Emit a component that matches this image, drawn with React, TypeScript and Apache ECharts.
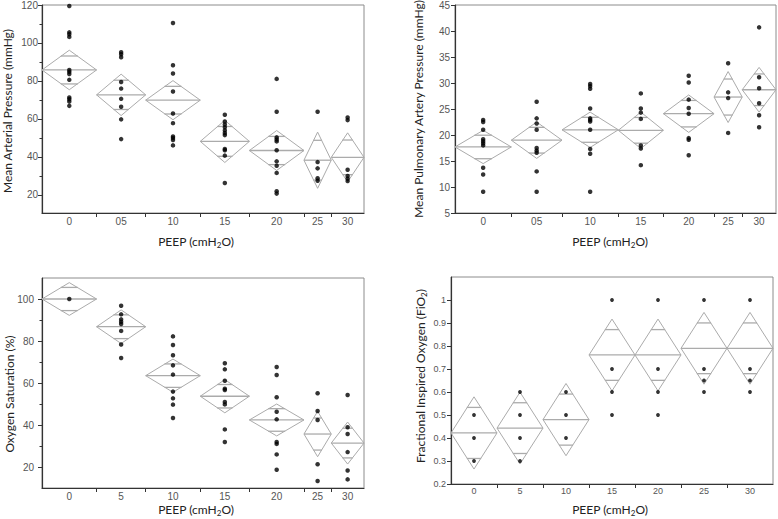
import React, { useEffect, useRef } from "react";
import * as echarts from "echarts";

// ---------- DATA ----------
const labelsPadded = ["0", "05", "10", "15", "20", "25", "30"];
const labelsPlain = ["0", "5", "10", "15", "20", "25", "30"];

// Mean Arterial Pressure
const mapSizes = [10, 9, 10, 9, 10, 5, 6];
const mapMeans = [85.8, 72.7, 69.9, 48.2, 43.4, 38.3, 39.8];
const mapHalfCI = [10.4, 10.9, 10.3, 11.1, 10.5, 14.8, 12.9];
const mapPoints = [
  [119.5, 105.6, 104.6, 103.2, 85.8, 84.8, 83.7, 80.6, 71.3, 70.4, 69.2, 66.9],
  [95.1, 94.1, 92.5, 79.5, 76.0, 70.6, 66.4, 59.8, 49.4],
  [110.5, 88.3, 83.9, 74.5, 62.9, 57.8, 50.8, 50.0, 48.9, 46.1],
  [62.2, 58.7, 57.1, 55.6, 54.0, 52.6, 51.5, 44.2, 43.5, 40.7, 26.3],
  [81.1, 63.8, 50.3, 49.2, 48.2, 43.5, 37.7, 35.4, 31.6, 22.0, 20.7],
  [63.8, 37.3, 34.0, 28.8, 27.5],
  [60.8, 59.4, 33.3, 30.0, 28.6, 27.3],
];
const mapTicks = [20, 40, 60, 80, 100, 120];
const mapMinorTicks = [30, 50, 70, 90, 110];

// Mean Pulmonary Artery Pressure
const mpapSizes = [10, 9, 10, 8, 9, 5, 6];
const mpapMeans = [17.7, 19.0, 21.0, 20.9, 24.1, 27.3, 28.7];
const mpapHalfCI = [3.2, 3.5, 3.4, 3.5, 3.6, 4.9, 4.3];
const mpapPoints = [
  [22.9, 22.5, 21.0, 19.2, 18.8, 18.4, 18.0, 13.7, 12.4, 9.1],
  [26.4, 23.2, 22.2, 21.0, 17.5, 17.0, 16.6, 13.0, 9.1],
  [29.8, 29.4, 28.9, 25.1, 23.2, 22.9, 22.6, 21.0, 17.3, 16.4, 9.1],
  [28.0, 25.1, 24.3, 23.1, 18.0, 17.4, 14.2],
  [31.4, 30.1, 26.8, 25.2, 24.1, 19.4, 19.1, 16.1],
  [33.8, 28.2, 27.1, 20.4],
  [40.7, 31.1, 29.0, 26.1, 23.8, 21.5],
];
const mpapTicks = [5, 10, 15, 20, 25, 30, 35, 40, 45];

// Oxygen Saturation
const satSizes = [10, 9, 10, 9, 10, 5, 6];
const satMeans = [100, 86.8, 63.5, 53.7, 42.4, 35.7, 31.4];
const satHalfCI = [7.8, 8.0, 7.9, 7.9, 7.6, 10.8, 10.0];
const satPoints = [
  [100],
  [96.8, 92.7, 90.3, 89.2, 88.1, 84.8, 78.3, 71.9],
  [82.2, 78.1, 73.2, 68.4, 64.0, 55.9, 52.7, 49.7, 43.3],
  [69.4, 66.5, 61.1, 57.3, 56.7, 51.0, 49.8, 37.9, 31.9],
  [67.6, 63.8, 53.2, 46.3, 42.7, 31.9, 31.0, 26.0, 18.7],
  [55.1, 46.7, 42.4, 21.3, 13.3],
  [54.3, 38.9, 35.7, 27.1, 18.3, 14.1],
];
const satTicks = [20, 40, 60, 80, 100];
const satMinorTicks = [30, 50, 70, 90];

// Fractional Inspired Oxygen
const fioSizes = [7, 7, 7, 7, 7, 7, 7];
const fioMeans = [0.422, 0.443, 0.48, 0.761, 0.761, 0.79, 0.79];
const fioHalfCI = [0.157, 0.156, 0.157, 0.156, 0.156, 0.156, 0.156];
const fioPoints = [
  [0.5, 0.4, 0.3],
  [0.6, 0.5, 0.4, 0.3],
  [0.6, 0.5, 0.4],
  [1.0, 0.7, 0.6, 0.5],
  [1.0, 0.7, 0.6, 0.5],
  [1.0, 0.7, 0.65, 0.6],
  [1.0, 0.7, 0.65, 0.6],
];
const fioTicks = [0.2, 0.3, 0.4, 0.5, 0.6, 0.7, 0.8, 0.9, 1];

// ---------- STYLE / LAYOUT ----------
const TICK_FONT = "'Liberation Sans', Arial, sans-serif";
const TITLE_FONT = "Lato, 'Open Sans', sans-serif";
const AXIS_DARK = "#333";
const DIAMOND = "#ababab";

type Panel = {
  labels: string[];
  sizes: number[];
  means: number[];
  half: number[];
  points: number[][];
  ticks: number[];
  minor?: number[];
  yMin: number;
  yMax: number;
  grid: { left: number; top: number; width: number; height: number };
  yLabelMargin: number;
  xLabelMargin: number;
  yFontSize: number;
  xFontSize: number;
  dot: number;
};

const panels: Panel[] = [
  {
    labels: labelsPadded, sizes: mapSizes, means: mapMeans, half: mapHalfCI, points: mapPoints,
    ticks: mapTicks, minor: mapMinorTicks, yMin: 10.5, yMax: 120,
    grid: { left: 42, top: 5, width: 322, height: 208 },
    yLabelMargin: 4, xLabelMargin: 3, yFontSize: 10, xFontSize: 10, dot: 4.5,
  },
  {
    labels: labelsPadded, sizes: mpapSizes, means: mpapMeans, half: mpapHalfCI, points: mpapPoints,
    ticks: mpapTicks, yMin: 5, yMax: 45,
    grid: { left: 455, top: 5, width: 321, height: 208 },
    yLabelMargin: 5, xLabelMargin: 3, yFontSize: 10, xFontSize: 10, dot: 4.5,
  },
  {
    labels: labelsPlain, sizes: satSizes, means: satMeans, half: satHalfCI, points: satPoints,
    ticks: satTicks, minor: satMinorTicks, yMin: 10, yMax: 110,
    grid: { left: 42, top: 278, width: 322, height: 210 },
    yLabelMargin: 8, xLabelMargin: 3, yFontSize: 10, xFontSize: 10, dot: 4.5,
  },
  {
    labels: labelsPlain, sizes: fioSizes, means: fioMeans, half: fioHalfCI, points: fioPoints,
    ticks: fioTicks, yMin: 0.2, yMax: 1.1,
    grid: { left: 451, top: 277, width: 322, height: 207 },
    yLabelMargin: 5, xLabelMargin: 2, yFontSize: 9, xFontSize: 9, dot: 3.8,
  },
];

function buildOption() {
  const grids: any[] = [];
  const xAxes: any[] = [];
  const yAxes: any[] = [];
  const series: any[] = [];

  panels.forEach((p, pi) => {
    const starts: number[] = [];
    let acc = 0;
    p.sizes.forEach((n) => {
      starts.push(acc);
      acc += n;
    });
    const total = acc;
    const centers = p.sizes.map((n, i) => starts[i] + n / 2);
    const inner = starts.slice(1);

    grids.push({
      ...p.grid,
      show: true,
      borderColor: "#8c8c8c",
      borderWidth: 1,
      backgroundColor: "transparent",
    });

    xAxes.push({
      gridIndex: pi,
      type: "value",
      min: 0,
      max: total,
      splitLine: { show: false },
      axisLine: { show: true, lineStyle: { color: AXIS_DARK, width: 1.2 } },
      axisTick: {
        show: true,
        customValues: inner,
        length: 4,
        lineStyle: { color: AXIS_DARK },
      },
      axisLabel: {
        show: true,
        customValues: centers,
        margin: p.xLabelMargin,
        color: "#555",
        fontFamily: TICK_FONT,
        fontSize: p.xFontSize,
        formatter: (v: number) => {
          let best = 0;
          centers.forEach((c, i) => {
            if (Math.abs(c - v) < Math.abs(centers[best] - v)) best = i;
          });
          return p.labels[best];
        },
      },
    });

    const yMain = yAxes.length;
    yAxes.push({
      gridIndex: pi,
      type: "value",
      min: p.yMin,
      max: p.yMax,
      splitLine: { show: false },
      axisLine: { show: true, lineStyle: { color: AXIS_DARK, width: 1.2 } },
      axisTick: {
        show: true,
        customValues: p.ticks,
        length: 4,
        lineStyle: { color: AXIS_DARK },
      },
      axisLabel: {
        show: true,
        customValues: p.ticks,
        margin: p.yLabelMargin,
        color: "#555",
        fontFamily: TICK_FONT,
        fontSize: p.yFontSize,
      },
    });
    if (p.minor) {
      yAxes.push({
        gridIndex: pi,
        type: "value",
        min: p.yMin,
        max: p.yMax,
        position: "left",
        splitLine: { show: false },
        axisLine: { show: false },
        axisTick: {
          show: true,
          customValues: p.minor,
          length: 2.5,
          lineStyle: { color: AXIS_DARK },
        },
        axisLabel: { show: false },
      });
    }

    const diamondData = p.sizes.map((n, i) => [starts[i], starts[i] + n, p.means[i], p.half[i]]);
    series.push({
      type: "custom",
      xAxisIndex: pi,
      yAxisIndex: yMain,
      clip: false,
      silent: true,
      z: 2,
      encode: { x: [0, 1], y: [2] },
      data: diamondData,
      renderItem: (_params: any, api: any) => {
        const x0 = api.value(0);
        const x1 = api.value(1);
        const m = api.value(2);
        const h = api.value(3);
        const xc = (x0 + x1) / 2;
        const L = api.coord([x0, m]);
        const R = api.coord([x1, m]);
        const T = api.coord([xc, m + h]);
        const B = api.coord([xc, m - h]);
        const k = h / Math.SQRT2;
        const yU = api.coord([xc, m + k])[1];
        const yD = api.coord([xc, m - k])[1];
        const hw = ((R[0] - L[0]) / 2) * 0.31;
        const cx = T[0];
        const style = { stroke: DIAMOND, fill: "none", lineWidth: 1 };
        return {
          type: "group",
          children: [
            { type: "polygon", shape: { points: [L, T, R, B] }, style },
            { type: "line", shape: { x1: L[0], y1: L[1], x2: R[0], y2: R[1] }, style: { ...style, lineWidth: 1.3 } },
            { type: "line", shape: { x1: cx - hw, y1: yU, x2: cx + hw, y2: yU }, style: { ...style, lineWidth: 1.3 } },
            { type: "line", shape: { x1: cx - hw, y1: yD, x2: cx + hw, y2: yD }, style: { ...style, lineWidth: 1.3 } },
          ],
        };
      },
    });

    const pts: number[][] = [];
    p.points.forEach((arr, i) => arr.forEach((v) => pts.push([centers[i], v])));
    series.push({
      type: "scatter",
      xAxisIndex: pi,
      yAxisIndex: yMain,
      symbol: "circle",
      symbolSize: p.dot,
      itemStyle: { color: "#000" },
      z: 3,
      silent: true,
      data: pts,
    });
  });

  const titleStyle = { fontFamily: TITLE_FONT, fontSize: 12, color: "#222" };
  const rich = {
    a: { ...titleStyle, lineHeight: 16 },
    s: { fontFamily: TITLE_FONT, fontSize: 8, color: "#222", verticalAlign: "bottom", lineHeight: 12 },
  };
  const txt = (x: number, y: number, text: string, rotate: boolean) => ({
    type: "text",
    x,
    y,
    rotation: rotate ? Math.PI / 2 : 0,
    silent: true,
    style: {
      text,
      rich,
      align: "center",
      verticalAlign: "middle",
      fill: "#222",
    },
  });

  const graphic = [
    txt(7, 111, "{a|Mean Arterial Pressure (mmHg)}", true),
    txt(196, 241, "{a|PEEP (cmH}{s|2}{a|O)}", false),
    txt(418, 109, "{a|Mean Pulmonary Artery Pressure (mmHg)}", true),
    txt(610, 241, "{a|PEEP (cmH}{s|2}{a|O)}", false),
    txt(9.5, 394, "{a|Oxygen Saturation (%)}", true),
    txt(196, 509, "{a|PEEP (cmH}{s|2}{a|O)}", false),
    txt(420, 376, "{a|Fractional Inspired Oxygen (FiO}{s|2}{a|)}", true),
    txt(610, 509, "{a|PEEP (cmH}{s|2}{a|O)}", false),
  ];

  return {
    animation: false,
    backgroundColor: "#fff",
    grid: grids,
    xAxis: xAxes,
    yAxis: yAxes,
    series,
    graphic,
  };
}

export default function App() {
  const ref = useRef<HTMLDivElement>(null);
  useEffect(() => {
    if (!ref.current) return;
    const chart = echarts.init(ref.current, undefined, { renderer: "svg" });
    chart.setOption(buildOption() as any);
    return () => chart.dispose();
  }, []);
  return (
    <div
      ref={ref}
      style={{ position: "fixed", left: 0, top: 0, width: 778, height: 519, background: "#fff" }}
    />
  );
}
